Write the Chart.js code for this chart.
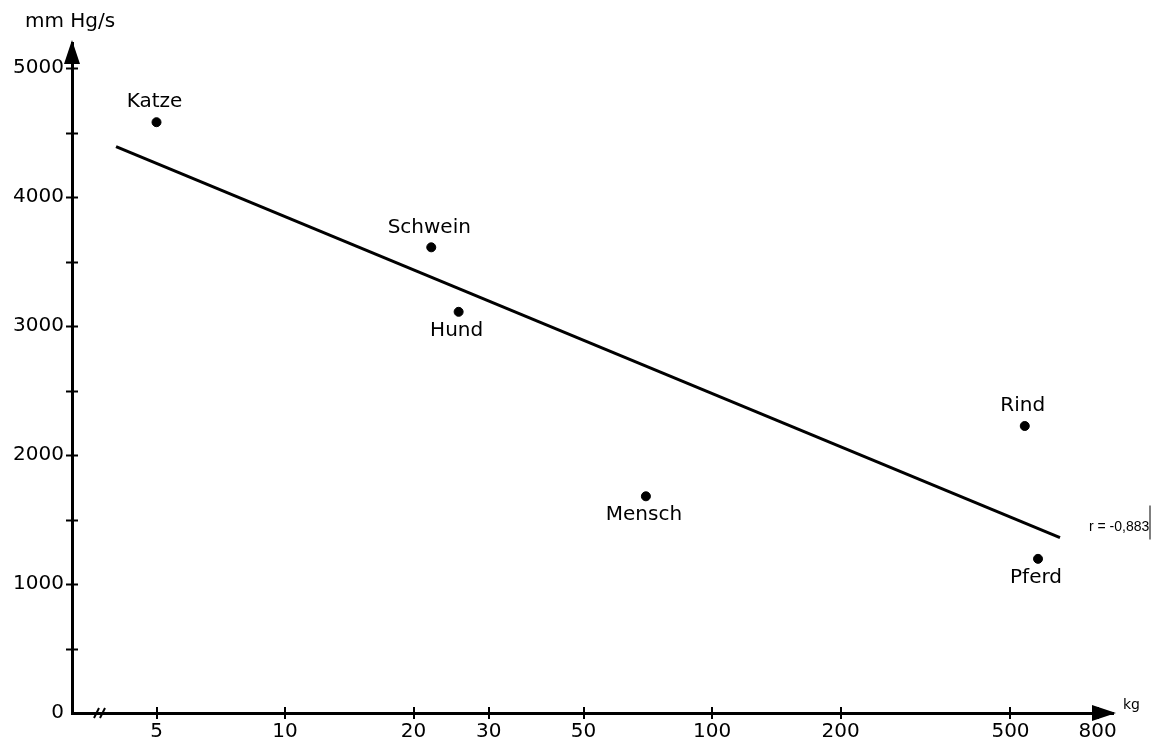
<!DOCTYPE html>
<html>
<head>
<meta charset="utf-8">
<script src="https://cdn.jsdelivr.net/npm/chart.js@4.4.1/dist/chart.umd.min.js"></script>
<style>
  html, body { margin: 0; padding: 0; background: #fff; }
  canvas { display: block; }
</style>
</head>
<body>
<canvas id="c" width="1153" height="751"></canvas>
<script>
// ---- data ----
const species       = ['Katze', 'Schwein', 'Hund', 'Mensch', 'Rind', 'Pferd'];
const bodyMassKg    = [5.0, 22, 25.5, 70, 540, 580];
const pressureRate  = [4580, 3610, 3110, 1680, 2225, 1195];
const labelSide     = ['above', 'above', 'below', 'below', 'above', 'below'];
const regressionX   = [4.02, 653];
const regressionY   = [4390, 1360];
const xTickValues   = [5, 10, 20, 30, 50, 100, 200, 500, 800];
const yTickValues   = [0, 500, 1000, 1500, 2000, 2500, 3000, 3500, 4000, 4500, 5000];
const yTickLabelled = [0, 1000, 2000, 3000, 4000, 5000];
const yUnit = 'mm Hg/s';
const xUnit = 'kg';
const corrText = 'r = -0,883';

const FONT = '"DejaVu Sans", Verdana, sans-serif';

const overlay = {
  id: 'overlay',
  beforeDraw(chart) {
    const ctx = chart.ctx;
    ctx.save();
    ctx.fillStyle = '#fff';
    ctx.fillRect(0, 0, chart.width, chart.height);
    ctx.restore();
  },
  afterDraw(chart) {
    const ctx = chart.ctx;
    const xs = chart.scales.x, ys = chart.scales.y;
    const area = chart.chartArea;
    ctx.save();
    ctx.strokeStyle = '#000';
    ctx.fillStyle = '#000';
    ctx.lineWidth = 2;
    // y tick marks (crossing the axis)
    ys.ticks.forEach(t => {
      if (t.value === 0) return;
      const y = Math.round(ys.getPixelForValue(t.value)) + 0.5;
      ctx.beginPath();
      ctx.moveTo(area.left - 6, y);
      ctx.lineTo(area.left + 6, y);
      ctx.stroke();
    });
    // x tick marks
    xs.ticks.forEach(t => {
      const x = Math.round(xs.getPixelForValue(t.value));
      ctx.beginPath();
      ctx.moveTo(x, area.bottom - 6);
      ctx.lineTo(x, area.bottom + 6);
      ctx.stroke();
    });
    // axis arrows
    ctx.beginPath();
    ctx.moveTo(area.left, area.top - 3);
    ctx.lineTo(area.left - 8, area.top + 21);
    ctx.lineTo(area.left + 8, area.top + 21);
    ctx.closePath();
    ctx.fill();
    ctx.beginPath();
    ctx.moveTo(area.right + 3, area.bottom);
    ctx.lineTo(area.right - 21, area.bottom - 8);
    ctx.lineTo(area.right - 21, area.bottom + 8);
    ctx.closePath();
    ctx.fill();
    // axis break "//"
    ctx.lineWidth = 2;
    [94, 100].forEach(x0 => {
      ctx.beginPath();
      ctx.moveTo(x0, area.bottom + 5);
      ctx.lineTo(x0 + 5, area.bottom - 5);
      ctx.stroke();
    });
    // point labels
    ctx.font = '20px ' + FONT;
    ctx.textAlign = 'center';
    ctx.textBaseline = 'middle';
    species.forEach((name, i) => {
      const px = xs.getPixelForValue(bodyMassKg[i]);
      const py = ys.getPixelForValue(pressureRate[i]);
      const dy = labelSide[i] === 'above' ? -20 : 19;
      ctx.fillText(name, px - 2, py + dy);
    });
    // unit labels
    ctx.font = '20px ' + FONT;
    ctx.textAlign = 'left';
    ctx.fillText(yUnit, 25, 22);
    ctx.font = '14px ' + FONT;
    ctx.fillText(xUnit, area.right + 10, area.bottom - 8);
    // correlation note
    ctx.font = '14px "Liberation Sans Narrow", "Liberation Sans", sans-serif';
    const ly = ys.getPixelForValue(regressionY[1]);
    ctx.fillText(corrText, 1089, ly - 10);
    ctx.strokeStyle = '#555';
    ctx.lineWidth = 1.5;
    ctx.beginPath();
    ctx.moveTo(1150, ly - 32);
    ctx.lineTo(1150, ly + 2);
    ctx.stroke();
    ctx.restore();
  }
};

new Chart(document.getElementById('c'), {
  type: 'scatter',
  data: {
    datasets: [
      {
        label: 'Tiere',
        data: bodyMassKg.map((m, i) => ({ x: m, y: pressureRate[i] })),
        backgroundColor: '#000',
        borderColor: '#000',
        pointRadius: 4.5,
        pointHoverRadius: 4.5
      },
      {
        label: 'Regression',
        type: 'line',
        data: regressionX.map((m, i) => ({ x: m, y: regressionY[i] })),
        borderColor: '#000',
        borderWidth: 3,
        pointRadius: 0,
        fill: false
      }
    ]
  },
  options: {
    responsive: false,
    devicePixelRatio: 1,
    animation: false,
    events: [],
    layout: { padding: { top: 43, right: 40, left: 0, bottom: 0 } },
    plugins: { legend: { display: false }, tooltip: { enabled: false } },
    scales: {
      x: {
        type: 'logarithmic',
        min: 3.17,
        max: 869,
        grid: { display: false, drawTicks: false },
        border: { display: true, color: '#000', width: 3 },
        afterBuildTicks(scale) { scale.ticks = xTickValues.map(v => ({ value: v })); },
        afterFit(scale) { scale.height = 38; },
        ticks: {
          autoSkip: false,
          maxRotation: 0,
          padding: 7,
          color: '#000',
          font: { family: FONT, size: 20 },
          callback: v => String(v)
        }
      },
      y: {
        type: 'linear',
        min: 0,
        max: 5194,
        grid: { display: false, drawTicks: false },
        border: { display: true, color: '#000', width: 3 },
        afterBuildTicks(scale) { scale.ticks = yTickValues.map(v => ({ value: v })); },
        afterFit(scale) { scale.width = 72; },
        ticks: {
          autoSkip: false,
          padding: 8,
          color: '#000',
          font: { family: FONT, size: 20 },
          callback: v => (yTickLabelled.includes(v) ? String(v) : '')
        }
      }
    }
  },
  plugins: [overlay]
});
</script>
</body>
</html>
